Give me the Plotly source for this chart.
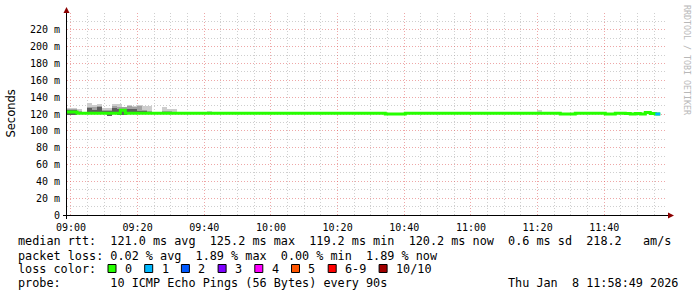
import pandas as pd
import plotly.graph_objects as go

# ---------------- data ----------------
T0 = pd.Timestamp("2026-01-08 09:00:00")
X_START = pd.Timestamp("2026-01-08 08:58:49")
X_END = pd.Timestamp("2026-01-08 11:58:49")
STEP_MIN = 1.5  # 90 s steps

# median rtt segments (minutes after 09:00), value in ms, loss count (of 10)
med_start = [-1.18, 1.82, 14.82, 16.32, 94.3, 100.3, 146.8, 151.3, 160.3, 163.3, 166.3, 167.8, 169.3, 170.8, 172.3, 173.8, 175.3]
med_val = [122.4, 121.0, 124.5, 121.0, 120.0, 121.0, 120.0, 121.0, 120.0, 121.0, 120.6, 120.0, 120.6, 120.0, 121.8, 120.6, 120.0]
med_loss = [0, 0, 0, 0, 0, 0, 0, 0, 0, 0, 0, 0, 0, 0, 0, 0, 1]
med_end = 176.8

# smoke (ping spread) per 90 s step index (step 0 starts at 08:58:49)
smoke_step = [0, 1, 2, 3, 4, 5, 6, 7, 8, 9, 10, 11, 12, 13, 14, 15, 16, 17, 18, 19, 20, 21, 28, 94]
smoke_lo = [119, 119, 120, 120, 120, 120, 120, 120, 117.6, 120, 119, 118.8, 120, 120, 120, 121, 121, 121, 121, 121, 121, 121, 121, 121]
smoke_light = [127.5, 127.5, 126, 122, 132.7, 130.3, 131.5, 126.8, 126.8, 131.5, 132.2, 128.7, 131, 129.5, 130.7, 129.5, 129.5, 122, 122.6, 128.6, 126, 126, 123.3, 124.5]
smoke_mid = [126, 126, 124, 121, 128, 128, 130, 125, 125, 130, 128.7, 128.7, 129.5, 128, 129, 125, 124, 121, 121, 124, 123, 122, 121, 121]
smoke_dark = [124.7, 124.7, 122, 120, 126.8, 124.7, 128, 123, 123, 126.8, 126, 126, 126, 126, 124, 123, 122, 121, 121, 122, 121, 121, 121, 121]

loss_labels = ["0", "1", "2", "3", "4", "5", "6-9", "10/10"]
loss_colors = ["#26ff00", "#00b8ff", "#0059ff", "#7e00ff", "#ff00ff", "#ff5500", "#ff0000", "#a10000"]

y_tick_vals = [0, 20, 40, 60, 80, 100, 120, 140, 160, 180, 200, 220]
y_tick_text = ["0", "20 m", "40 m", "60 m", "80 m", "100 m", "120 m", "140 m", "160 m", "180 m", "200 m", "220 m"]
y_minor_vals = [10, 30, 50, 70, 90, 110, 130, 150, 170, 190, 210, 230]

legend_rows = [
    "median rtt:  121.0 ms avg  125.2 ms max  119.2 ms min  120.2 ms now  0.6 ms sd  218.2   am/s",
    "packet loss: 0.02 % avg  1.89 % max  0.00 % min  1.89 % now",
    "loss color:",
    "probe:       10 ICMP Echo Pings (56 Bytes) every 90s",
]
date_text = "Thu Jan  8 11:58:49 2026"

# ---------------- layout geometry ----------------
W, H = 697, 297
L, R, T, B = 67, 30, 13, 82
PW, PH = W - L - R, H - T - B
MONO = "DejaVu Sans Mono"


def px(x):
    return (x - L) / PW


def py(y):
    return (H - B - y) / PH


def tm(m):
    return T0 + pd.Timedelta(minutes=m)


fig = go.Figure()

# smoke bars
step_ms = STEP_MIN * 60 * 1000
sx = [X_START + pd.Timedelta(minutes=STEP_MIN * k) for k in smoke_step]
for tops, col in [(smoke_light, "#cdcdcd"), (smoke_mid, "#a2a2a2"), (smoke_dark, "#5e5e5e")]:
    fig.add_trace(go.Bar(
        x=sx, y=[t - lo for t, lo in zip(tops, smoke_lo)], base=smoke_lo,
        width=[step_ms] * len(sx), offset=0,
        marker=dict(color=col, line=dict(width=0)), hoverinfo="skip", showlegend=False,
    ))

# median line (green step line), then loss-coloured overlays
mx = [tm(s) for s in med_start] + [tm(med_end)]
my = med_val + [med_val[-1]]
fig.add_trace(go.Scatter(x=mx, y=my, mode="lines", line=dict(color=loss_colors[0], width=3, shape="hv"),
                         hoverinfo="skip", showlegend=False))
ends = med_start[1:] + [med_end]
for li in sorted(set(med_loss)):
    if li == 0:
        continue
    xs, ys = [], []
    for s, e, v, l in zip(med_start, ends, med_val, med_loss):
        if l == li:
            xs += [tm(s), tm(e), None]
            ys += [v, v, None]
    fig.add_trace(go.Scatter(x=xs, y=ys, mode="lines", line=dict(color=loss_colors[li], width=3),
                             hoverinfo="skip", showlegend=False))

shapes = []
# axes lines & arrows
axis_col = "#000000"
arrow_col = "#8b0000"
shapes.append(dict(type="line", xref="paper", yref="paper", x0=px(L - 0.5), x1=px(L - 0.5),
                   y0=py(H - B + 4), y1=py(12), line=dict(color=axis_col, width=1), layer="above"))
shapes.append(dict(type="line", xref="paper", yref="paper", x0=px(L - 4), x1=px(670),
                   y0=py(H - B + 0.5), y1=py(H - B + 0.5), line=dict(color=axis_col, width=1), layer="above"))
shapes.append(dict(type="path", xref="paper", yref="paper",
                   path=f"M {px(L-3.5)} {py(13)} L {px(L+2.5)} {py(13)} L {px(L-0.5)} {py(7)} Z",
                   fillcolor=arrow_col, line=dict(width=0), layer="above"))
shapes.append(dict(type="path", xref="paper", yref="paper",
                   path=f"M {px(668)} {py(H-B-2.5)} L {px(668)} {py(H-B+3.5)} L {px(674)} {py(H-B+0.5)} Z",
                   fillcolor=arrow_col, line=dict(width=0), layer="above"))

annotations = []
row_y = [241.5, 255.5, 269, 282.5]
for txt, yy in zip(legend_rows, row_y):
    annotations.append(dict(text=txt.replace(" ", "\u00a0"), xref="paper", yref="paper",
                            x=px(16), y=py(yy), xanchor="left", yanchor="middle", showarrow=False,
                            font=dict(family=MONO, size=11.8, color="black")))
annotations.append(dict(text=date_text.replace(" ", "\u00a0"), xref="paper", yref="paper",
                        x=px(680), y=py(282.5), xanchor="right", yanchor="middle", showarrow=False,
                        font=dict(family=MONO, size=11.8, color="black")))

# loss colour boxes
box_x = 108.0
for lab, col in zip(loss_labels, loss_colors):
    shapes.append(dict(type="rect", xref="paper", yref="paper", x0=px(box_x), x1=px(box_x + 8),
                       y0=py(272.5), y1=py(264.5), fillcolor=col, line=dict(color="black", width=1)))
    annotations.append(dict(text=lab, xref="paper", yref="paper", x=px(box_x + 15), y=py(269),
                            xanchor="left", yanchor="middle", showarrow=False,
                            font=dict(family=MONO, size=11.8, color="black")))
    box_x += 15 + 7.1 * len(lab) + 14.6

# y title and watermark
annotations.append(dict(text="Seconds", xref="paper", yref="paper", x=px(10.5), y=py(114),
                        xanchor="center", yanchor="middle", textangle=-90, showarrow=False,
                        font=dict(family="DejaVu Sans", size=11.5, color="black")))
annotations.append(dict(text="RRDTOOL / TOBI OETIKER", xref="paper", yref="paper", x=px(687), y=py(60),
                        xanchor="center", yanchor="middle", textangle=90, showarrow=False,
                        font=dict(family=MONO, size=8.3, color="#b8b8b8")))

fig.update_layout(
    width=W, height=H, autosize=False,
    margin=dict(l=L, r=R, t=T, b=B, pad=0),
    paper_bgcolor="white", plot_bgcolor="white",
    barmode="overlay", bargap=0, showlegend=False,
    shapes=shapes, annotations=annotations,
    xaxis=dict(
        type="date", range=[X_START, X_END], tick0=T0, dtick=20 * 60 * 1000,
        tickformat="%H:%M", showgrid=True, gridcolor="rgba(222,80,80,0.5)", griddash="1px,2px",
        gridwidth=1, zeroline=False, showline=False, ticks="", ticklabelstandoff=5,
        tickfont=dict(family=MONO, size=10, color="black"),
        minor=dict(dtick=5 * 60 * 1000, tick0=T0, showgrid=True, gridcolor="rgba(160,160,160,0.5)",
                   griddash="1px,2px", gridwidth=1),
        fixedrange=True,
    ),
    yaxis=dict(
        range=[0, 240], tickmode="array", tickvals=y_tick_vals, ticktext=y_tick_text,
        showgrid=True, gridcolor="rgba(222,80,80,0.5)", griddash="1px,2px", gridwidth=1,
        zeroline=False, showline=False, ticks="", ticklabelstandoff=6,
        tickfont=dict(family=MONO, size=10, color="black"),
        minor=dict(tickmode="array", tickvals=y_minor_vals, showgrid=True,
                   gridcolor="rgba(160,160,160,0.5)", griddash="1px,2px", gridwidth=1),
        fixedrange=True,
    ),
)

fig.write_html("out.html")
